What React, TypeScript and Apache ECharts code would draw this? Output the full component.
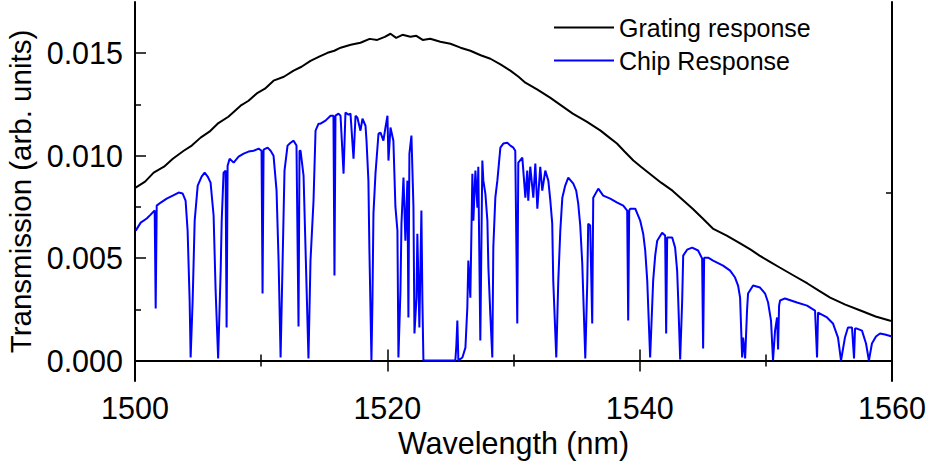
import React, { useEffect, useRef } from "react";
import * as echarts from "echarts";

const gratingNm = [
  1500.05, 1500.8, 1501.48, 1502.3, 1503.0, 1503.86, 1504.5, 1505.2, 1505.9, 1506.55,
  1507.4, 1508.37, 1509.0, 1509.72, 1510.3, 1510.98, 1511.8, 1512.57, 1513.2, 1513.91,
  1514.6, 1515.26, 1515.8, 1516.3, 1517.1, 1517.87, 1518.6, 1519.2, 1519.8, 1520.25,
  1520.7, 1521.2, 1521.83, 1522.3, 1522.8, 1523.4, 1524.2, 1525.0, 1525.8, 1526.58,
  1527.4, 1528.17, 1529.0, 1529.75, 1530.4, 1530.94, 1531.9, 1532.9, 1533.8, 1534.7,
  1535.8, 1536.9, 1537.6, 1538.2, 1538.8, 1539.5, 1540.1, 1540.8, 1541.7, 1542.6,
  1543.4, 1544.2, 1545.0, 1545.8, 1546.9, 1548.0, 1548.8, 1549.5, 1550.3, 1551.1,
  1552.2, 1553.3, 1554.2, 1555.1, 1556.3, 1557.5, 1558.7, 1559.8, 1560.0,
];
const gratingT = [
  0.00844, 0.00873, 0.00917, 0.00946, 0.00985, 0.01024, 0.01049, 0.01088, 0.01117, 0.01156,
  0.0119, 0.01244, 0.01268, 0.01307, 0.01327, 0.01366, 0.01385, 0.01415, 0.01434, 0.01463,
  0.01483, 0.01502, 0.01512, 0.01527, 0.01541, 0.01551, 0.0157, 0.01565, 0.0158, 0.01595,
  0.01575, 0.0159, 0.0158, 0.01585, 0.01565, 0.01571, 0.01556, 0.01546, 0.01527, 0.01512,
  0.0149, 0.01473, 0.01444, 0.01415, 0.01385, 0.01356, 0.01322, 0.01283, 0.01244, 0.01205,
  0.01166, 0.01122, 0.01088, 0.01059, 0.0102, 0.00976, 0.00946, 0.00912, 0.00868, 0.00829,
  0.00785, 0.00741, 0.00693, 0.00644, 0.0061, 0.00571, 0.00541, 0.00512, 0.00483, 0.00454,
  0.00415, 0.00376, 0.00341, 0.00307, 0.00273, 0.00244, 0.00215, 0.00195, 0.00193,
];

const chipNm = [
  1500.06, 1500.45, 1500.93, 1501.24, 1501.56, 1501.64, 1501.72, 1502.04, 1502.51, 1502.99,
  1503.46, 1503.78, 1504.01, 1504.17, 1504.33, 1504.41, 1504.57, 1504.73, 1504.97, 1505.28,
  1505.52, 1505.76, 1505.99, 1506.23, 1506.39, 1506.59, 1506.79, 1506.87, 1507.02, 1507.18,
  1507.26, 1507.34, 1507.5, 1507.82, 1508.21, 1508.61, 1509.0, 1509.4, 1509.8, 1510.03,
  1510.11, 1510.19, 1510.51, 1510.75, 1510.98, 1511.22, 1511.38, 1511.54, 1511.7, 1511.85,
  1512.09, 1512.33, 1512.57, 1512.8, 1512.96, 1513.04, 1513.12, 1513.36, 1513.52, 1513.75,
  1513.91, 1514.15, 1514.31, 1514.55, 1514.7, 1515.1, 1515.5, 1515.73, 1515.81, 1515.89,
  1516.13, 1516.29, 1516.53, 1516.68, 1516.92, 1517.08, 1517.32, 1517.48, 1517.63, 1517.87,
  1518.03, 1518.27, 1518.35, 1518.5, 1518.58, 1518.74, 1518.82, 1518.9, 1519.06, 1519.3,
  1519.46, 1519.69, 1519.85, 1520.01, 1520.09, 1520.25, 1520.48, 1520.64, 1520.8, 1520.88,
  1521.04, 1521.12, 1521.28, 1521.43, 1521.59, 1521.67, 1521.75, 1521.91, 1522.07, 1522.15,
  1522.31, 1522.38, 1522.54, 1522.7, 1522.78, 1522.86, 1525.39, 1525.47, 1525.55, 1525.63,
  1525.95, 1526.19, 1526.34, 1526.42, 1526.58, 1526.74, 1526.82, 1526.98, 1527.14, 1527.21,
  1527.37, 1527.53, 1527.61, 1527.77, 1527.93, 1528.01, 1528.16, 1528.32, 1528.4, 1528.56,
  1528.72, 1528.96, 1529.19, 1529.51, 1529.75, 1529.99, 1530.14, 1530.3, 1530.38, 1530.7,
  1530.94, 1531.09, 1531.17, 1531.33, 1531.57, 1531.73, 1531.89, 1532.12, 1532.28, 1532.52,
  1532.76, 1532.92, 1533.07, 1533.15, 1533.39, 1533.55, 1533.71, 1533.87, 1534.1, 1534.34,
  1534.74, 1534.97, 1535.13, 1535.29, 1535.45, 1535.69, 1535.85, 1535.92, 1536.08, 1536.24,
  1536.32, 1536.72, 1537.11, 1537.67, 1538.22, 1538.7, 1539.01, 1539.09, 1539.17, 1539.25,
  1539.65, 1540.04, 1540.28, 1540.44, 1540.6, 1540.83, 1541.07, 1541.23, 1541.39, 1541.78,
  1542.02, 1542.1, 1542.18, 1542.58, 1542.81, 1542.97, 1543.05, 1543.21, 1543.37, 1543.45,
  1543.76, 1544.16, 1544.63, 1544.95, 1545.03, 1545.11, 1545.43, 1545.82, 1546.61, 1547.17,
  1547.56, 1547.8, 1547.96, 1548.12, 1548.2, 1548.36, 1548.51, 1548.59, 1548.99, 1549.54,
  1549.94, 1550.18, 1550.41, 1550.57, 1550.73, 1550.89, 1550.97, 1551.05, 1551.13, 1551.52,
  1552.47, 1553.27, 1553.9, 1554.06, 1554.14, 1554.85, 1555.32, 1555.72, 1555.96, 1556.27,
  1556.51, 1556.83, 1556.99, 1557.07, 1557.22, 1557.62, 1557.94, 1558.17, 1558.41, 1558.73,
  1559.05, 1559.44, 1560.0,
];
const chipT = [
  0.00634, 0.00673, 0.00693, 0.00712, 0.00732, 0.00254, 0.00756, 0.00771, 0.0079, 0.00805,
  0.0082, 0.00815, 0.0078, 0.00634, 0.00293, 0.00015, 0.00293, 0.00683, 0.00854, 0.00898,
  0.00917, 0.00898, 0.00868, 0.00708, 0.00341, 0.0001, 0.00439, 0.00678, 0.00917, 0.00927,
  0.00161, 0.00951, 0.00985, 0.00966, 0.00995, 0.0101, 0.0102, 0.01024, 0.01034, 0.01024,
  0.00327, 0.01029, 0.01039, 0.01024, 0.01, 0.00829, 0.00488, 0.00015, 0.00488, 0.00927,
  0.01049, 0.01063, 0.01073, 0.01049, 0.00166, 0.01024, 0.01024, 0.00902, 0.00537, 0.0001,
  0.00488, 0.0078, 0.01122, 0.01156, 0.01156, 0.01171, 0.01195, 0.01195, 0.00415, 0.01195,
  0.01205, 0.01195, 0.00912, 0.0121, 0.012, 0.01205, 0.00985, 0.01195, 0.01185, 0.01122,
  0.0118, 0.01146, 0.01073, 0.00878, 0.00537, 0.0, 0.00293, 0.00717, 0.00912, 0.01107,
  0.01112, 0.01073, 0.01137, 0.01195, 0.00976, 0.01137, 0.01073, 0.00751, 0.00634, 0.00015,
  0.00341, 0.00668, 0.00893, 0.00585, 0.00878, 0.0021, 0.0101, 0.01098, 0.00751, 0.00132,
  0.00307, 0.00619, 0.00161, 0.00732, 0.00293, 0.0, 0.0, 0.00073, 0.00195, 0.0,
  0.00015, 0.00063, 0.00259, 0.00488, 0.00307, 0.00912, 0.00683, 0.00927, 0.00746, 0.00946,
  0.00098, 0.00976, 0.00878, 0.00815, 0.00683, 0.00454, 0.00229, 0.00015, 0.00551, 0.00795,
  0.00878, 0.01039, 0.01059, 0.01063, 0.01049, 0.01039, 0.01024, 0.00181, 0.00966, 0.0099,
  0.00795, 0.00927, 0.0078, 0.00946, 0.00795, 0.00961, 0.00741, 0.00946, 0.00829, 0.00927,
  0.00878, 0.0078, 0.00668, 0.0039, 0.00015, 0.0039, 0.00634, 0.00795, 0.00854, 0.00893,
  0.00863, 0.00829, 0.00766, 0.00659, 0.00473, 0.0001, 0.0039, 0.00668, 0.00659, 0.00181,
  0.00795, 0.00839, 0.00805, 0.0079, 0.00771, 0.00756, 0.00732, 0.00195, 0.00732, 0.00741,
  0.00741, 0.00683, 0.00619, 0.00537, 0.0039, 0.00015, 0.0039, 0.00512, 0.00585, 0.00624,
  0.0061, 0.00132, 0.006, 0.006, 0.00551, 0.00439, 0.00307, 0.00005, 0.00293, 0.00512,
  0.00541, 0.00551, 0.00537, 0.00498, 0.00059, 0.00502, 0.00502, 0.00488, 0.00463, 0.00439,
  0.00405, 0.00366, 0.00307, 0.00015, 0.00112, 0.0001, 0.00244, 0.00327, 0.00366, 0.00356,
  0.00327, 0.00283, 0.00195, 0.0, 0.00146, 0.0021, 0.00054, 0.00268, 0.00293, 0.00303,
  0.00283, 0.00268, 0.00244, 0.00015, 0.00234, 0.0021, 0.00181, 0.00112, 0.0, 0.00112,
  0.00161, 0.00161, 0.0001, 0.00156, 0.00156, 0.00146, 0.00083, 0.0, 0.00083, 0.00117,
  0.00132, 0.00127, 0.00117,
];

const seriesNames = ["Grating response", "Chip Response"];
const yMajorTicks = [0, 0.005, 0.01, 0.015];
const yMinorTicks = [0.0025, 0.0075, 0.0125];
const rightTicks = [0.0082];

const FONT = "'Liberation Sans', Arial, sans-serif";

export default function App() {
  const ref = useRef<HTMLDivElement>(null);
  useEffect(() => {
    if (!ref.current) return;
    const chart = echarts.init(ref.current, null, { renderer: "svg" });
    const axisLine = { show: true, lineStyle: { color: "#000", width: 2 } };
    const yBase = {
      type: "value",
      min: -0.001,
      max: 0.0175,
      splitLine: { show: false },
    };
    const xBase = {
      type: "value",
      min: 1500,
      max: 1560,
      interval: 20,
      splitLine: { show: false },
      minorSplitLine: { show: false },
      minorTick: { show: true, splitNumber: 2, length: 6, lineStyle: { color: "#000", width: 1.5 } },
      axisTick: { show: true, inside: true, length: 11, lineStyle: { color: "#000", width: 1.5 } },
      axisLine,
    };
    chart.setOption({
      animation: false,
      backgroundColor: "#fff",
      grid: { left: 135, right: 36, top: 2, bottom: 86, containLabel: false, outerBoundsMode: "none" },
      legend: {
        data: seriesNames.map((n) => ({ name: n, icon: "rect" })),
        orient: "vertical",
        left: 554,
        top: 15,
        padding: 0,
        itemWidth: 60,
        itemHeight: 2,
        itemGap: 8,
        textStyle: { fontSize: 25, color: "#000", fontFamily: FONT },
      },
      xAxis: [
        {
          ...xBase,
          position: "bottom",
          name: "Wavelength (nm)",
          nameLocation: "middle",
          nameGap: 46,
          nameTextStyle: { fontSize: 30.5, color: "#000", fontFamily: FONT },
          axisLabel: {
            show: true,
            margin: 11,
            fontSize: 30.5,
            color: "#000",
            fontFamily: FONT,
            formatter: (v: number) => String(v),
          },
        },
        {
          ...xBase,
          position: "top",
          axisLabel: { show: false },
        },
      ],
      yAxis: [
        {
          ...yBase,
          position: "left",
          name: "Transmission (arb. units)",
          nameLocation: "middle",
          nameGap: 93,
          nameTextStyle: { fontSize: 29.5, color: "#000", fontFamily: FONT },
          axisLine,
          axisTick: {
            show: true,
            inside: true,
            length: 11,
            customValues: yMajorTicks,
            lineStyle: { color: "#000", width: 1.5 },
          },
          axisLabel: {
            show: true,
            margin: 12,
            fontSize: 30.5,
            color: "#000",
            fontFamily: FONT,
            customValues: yMajorTicks,
            formatter: (v: number) => v.toFixed(3),
          },
        },
        {
          ...yBase,
          position: "left",
          axisLine: { show: false },
          axisLabel: { show: false },
          axisTick: {
            show: true,
            inside: true,
            length: 6,
            customValues: yMinorTicks,
            lineStyle: { color: "#000", width: 1.5 },
          },
        },
        {
          ...yBase,
          position: "right",
          axisLine,
          axisLabel: { show: false },
          axisTick: {
            show: true,
            inside: true,
            length: 6,
            customValues: rightTicks,
            lineStyle: { color: "#000", width: 1.5 },
          },
        },
      ],
      series: [
        {
          name: seriesNames[0],
          type: "line",
          xAxisIndex: 0,
          yAxisIndex: 0,
          showSymbol: false,
          symbol: "none",
          color: "#000000",
          lineStyle: { color: "#000000", width: 2 },
          data: gratingNm.map((x, i) => [x, gratingT[i]]),
        },
        {
          name: seriesNames[1],
          type: "line",
          xAxisIndex: 0,
          yAxisIndex: 0,
          showSymbol: false,
          symbol: "none",
          color: "#0000ff",
          lineStyle: { color: "#0000ff", width: 2 },
          data: chipNm.map((x, i) => [x, chipT[i]]),
        },
      ],
    });
    return () => chart.dispose();
  }, []);
  return (
    <div
      ref={ref}
      style={{ position: "fixed", left: 0, top: 0, width: 928, height: 467, background: "#fff" }}
    />
  );
}
